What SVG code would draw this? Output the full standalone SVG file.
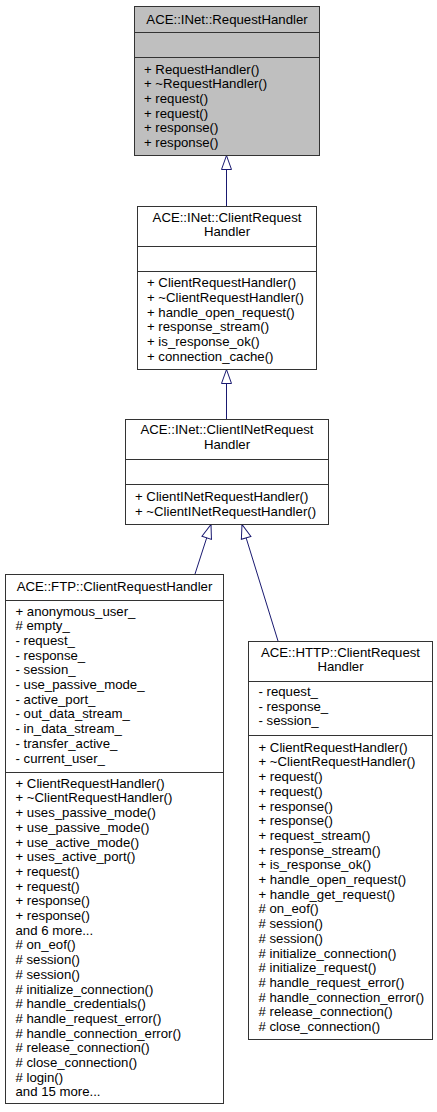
<svg xmlns="http://www.w3.org/2000/svg" width="437" height="1112" viewBox="0 0 437 1112">
<style>
.box{fill:#ffffff;stroke:#333333;stroke-width:1}
.hl{fill:#bfbfbf}
.div{stroke:#333333;stroke-width:1;fill:none}
text{font-family:"Liberation Sans",Arial,sans-serif;font-size:13.2px;fill:#000000}
.c{text-anchor:middle}
.edge{stroke:#191970;stroke-width:1;fill:none;marker-end:url(#tri)}
</style>
<defs>
<marker id="tri" markerUnits="userSpaceOnUse" markerWidth="16" markerHeight="12" viewBox="-1 -6 16 12" refX="14" refY="0" orient="auto">
<path d="M0,-5 L14,0 L0,5 Z" fill="#ffffff" stroke="#191970" stroke-width="1"/>
</marker>
</defs>
<rect width="437" height="1112" fill="#ffffff"/>
<g id="connectors">
<path class="edge" d="M226.5,206 L226.5,155.5"/>
<path class="edge" d="M226.5,419 L226.5,369.5"/>
<path class="edge" d="M195,574 L211,524.5"/>
<path class="edge" d="M278,641 L242,524.5"/>
</g>
<g id="node-RequestHandler">
<rect class="box hl" x="134.5" y="6.5" width="185" height="149"/>
<path class="div" d="M134.5,32.5 H319.5 M134.5,57.5 H319.5"/>
<text class="c" x="227" y="23.5">ACE::INet::RequestHandler</text>
<text x="144" y="73.5"><tspan x="144">+ RequestHandler()</tspan><tspan x="144" dy="14.7">+ ~RequestHandler()</tspan><tspan x="144" dy="14.7">+ request()</tspan><tspan x="144" dy="14.7">+ request()</tspan><tspan x="144" dy="14.7">+ response()</tspan><tspan x="144" dy="14.7">+ response()</tspan></text>
</g>
<g id="node-ClientRequestHandler">
<rect class="box" x="137.5" y="206.5" width="179" height="163"/>
<path class="div" d="M137.5,246.5 H316.5 M137.5,271.5 H316.5"/>
<text class="c" x="227" y="221.5"><tspan x="227">ACE::INet::ClientRequest</tspan><tspan x="227" dy="14.7">Handler</tspan></text>
<text x="147" y="287.3"><tspan x="147">+ ClientRequestHandler()</tspan><tspan x="147" dy="14.7">+ ~ClientRequestHandler()</tspan><tspan x="147" dy="14.7">+ handle_open_request()</tspan><tspan x="147" dy="14.7">+ response_stream()</tspan><tspan x="147" dy="14.7">+ is_response_ok()</tspan><tspan x="147" dy="14.7">+ connection_cache()</tspan></text>
</g>
<g id="node-ClientINetRequestHandler">
<rect class="box" x="125.5" y="419.5" width="203" height="105"/>
<path class="div" d="M125.5,459.5 H328.5 M125.5,484.5 H328.5"/>
<text class="c" x="227" y="434.3"><tspan x="227">ACE::INet::ClientINetRequest</tspan><tspan x="227" dy="14.7">Handler</tspan></text>
<text x="135" y="501"><tspan x="135">+ ClientINetRequestHandler()</tspan><tspan x="135" dy="14.7">+ ~ClientINetRequestHandler()</tspan></text>
</g>
<g id="node-FTPClientRequestHandler">
<rect class="box" x="5.5" y="574.5" width="218" height="529"/>
<path class="div" d="M5.5,600.5 H223.5 M5.5,772.5 H223.5"/>
<text class="c" x="114.5" y="591">ACE::FTP::ClientRequestHandler</text>
<text x="15.5" y="615.5"><tspan x="15.5">+ anonymous_user_</tspan><tspan x="15.5" dy="14.7"># empty_</tspan><tspan x="15.5" dy="14.7">- request_</tspan><tspan x="15.5" dy="14.7">- response_</tspan><tspan x="15.5" dy="14.7">- session_</tspan><tspan x="15.5" dy="14.7">- use_passive_mode_</tspan><tspan x="15.5" dy="14.7">- active_port_</tspan><tspan x="15.5" dy="14.7">- out_data_stream_</tspan><tspan x="15.5" dy="14.7">- in_data_stream_</tspan><tspan x="15.5" dy="14.7">- transfer_active_</tspan><tspan x="15.5" dy="14.7">- current_user_</tspan></text>
<text x="15.5" y="787.7"><tspan x="15.5">+ ClientRequestHandler()</tspan><tspan x="15.5" dy="14.7">+ ~ClientRequestHandler()</tspan><tspan x="15.5" dy="14.7">+ uses_passive_mode()</tspan><tspan x="15.5" dy="14.7">+ use_passive_mode()</tspan><tspan x="15.5" dy="14.7">+ use_active_mode()</tspan><tspan x="15.5" dy="14.7">+ uses_active_port()</tspan><tspan x="15.5" dy="14.7">+ request()</tspan><tspan x="15.5" dy="14.7">+ request()</tspan><tspan x="15.5" dy="14.7">+ response()</tspan><tspan x="15.5" dy="14.7">+ response()</tspan><tspan x="15.5" dy="14.7">and 6 more...</tspan><tspan x="15.5" dy="14.7"># on_eof()</tspan><tspan x="15.5" dy="14.7"># session()</tspan><tspan x="15.5" dy="14.7"># session()</tspan><tspan x="15.5" dy="14.7"># initialize_connection()</tspan><tspan x="15.5" dy="14.7"># handle_credentials()</tspan><tspan x="15.5" dy="14.7"># handle_request_error()</tspan><tspan x="15.5" dy="14.7"># handle_connection_error()</tspan><tspan x="15.5" dy="14.7"># release_connection()</tspan><tspan x="15.5" dy="14.7"># close_connection()</tspan><tspan x="15.5" dy="14.7"># login()</tspan><tspan x="15.5" dy="14.7">and 15 more...</tspan></text>
</g>
<g id="node-HTTPClientRequestHandler">
<rect class="box" x="248.5" y="641.5" width="184" height="398"/>
<path class="div" d="M248.5,681.5 H432.5 M248.5,735.5 H432.5"/>
<text class="c" x="340.5" y="656.7"><tspan x="340.5">ACE::HTTP::ClientRequest</tspan><tspan x="340.5" dy="14.7">Handler</tspan></text>
<text x="258.5" y="696"><tspan x="258.5">- request_</tspan><tspan x="258.5" dy="14.7">- response_</tspan><tspan x="258.5" dy="14.7">- session_</tspan></text>
<text x="258.5" y="751.7"><tspan x="258.5">+ ClientRequestHandler()</tspan><tspan x="258.5" dy="14.7">+ ~ClientRequestHandler()</tspan><tspan x="258.5" dy="14.7">+ request()</tspan><tspan x="258.5" dy="14.7">+ request()</tspan><tspan x="258.5" dy="14.7">+ response()</tspan><tspan x="258.5" dy="14.7">+ response()</tspan><tspan x="258.5" dy="14.7">+ request_stream()</tspan><tspan x="258.5" dy="14.7">+ response_stream()</tspan><tspan x="258.5" dy="14.7">+ is_response_ok()</tspan><tspan x="258.5" dy="14.7">+ handle_open_request()</tspan><tspan x="258.5" dy="14.7">+ handle_get_request()</tspan><tspan x="258.5" dy="14.7"># on_eof()</tspan><tspan x="258.5" dy="14.7"># session()</tspan><tspan x="258.5" dy="14.7"># session()</tspan><tspan x="258.5" dy="14.7"># initialize_connection()</tspan><tspan x="258.5" dy="14.7"># initialize_request()</tspan><tspan x="258.5" dy="14.7"># handle_request_error()</tspan><tspan x="258.5" dy="14.7"># handle_connection_error()</tspan><tspan x="258.5" dy="14.7"># release_connection()</tspan><tspan x="258.5" dy="14.7"># close_connection()</tspan></text>
</g>
</svg>
